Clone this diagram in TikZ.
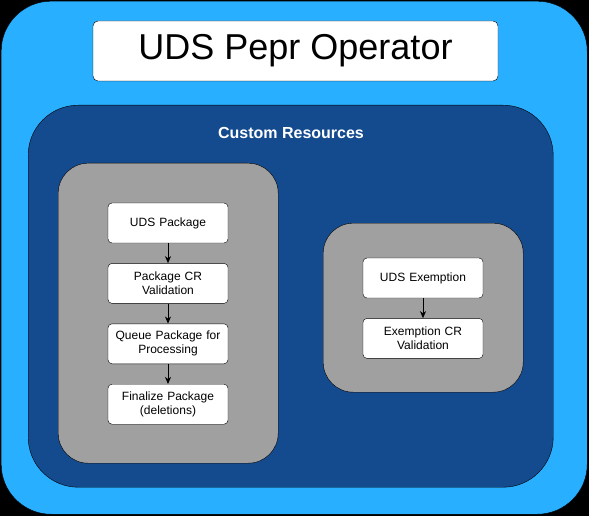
\documentclass[tikz,border=0pt]{standalone}
\usepackage{fontspec}
\setmainfont{Liberation Sans}
\usetikzlibrary{positioning,arrows.meta}
\definecolor{outerblue}{RGB}{41,175,255}
\definecolor{crblue}{RGB}{20,74,142}
\definecolor{boxgrey}{RGB}{160,160,160}

\begin{document}
\begin{tikzpicture}[x=1pt,y=-1pt,node distance=20pt,
   panel/.style n args={4}{draw=black,fill=#1,minimum width=#2pt,minimum height=#3pt,rounded corners=#4pt,rectangle,anchor=north west,inner sep=0pt},
   stepbox/.style={draw=black,fill=white,rounded corners=4pt,minimum width=120pt,minimum height=40pt,text width=112pt,align=center,font=\fontsize{12}{14}\selectfont,inner sep=0pt},
   flow/.style={-{Stealth[length=7pt,width=6pt,inset=2pt]},line width=0.9pt}]
\fill[black] (0,0) rectangle (589,516);
\node[panel={outerblue}{586}{513}{50}] (operator) at (1,1) {};
\node[draw=black,fill=white,rounded corners=5pt,minimum width=405pt,minimum height=60pt,inner sep=0pt,font=\fontsize{36}{40}\selectfont] (title) at (295.5,51) {UDS Pepr Operator};
\node[panel={crblue}{525}{382}{50}] (cr) at (28,105) {};
\node[text=white,font=\bfseries\fontsize{16}{18}\selectfont] (crlabel) at (291,133) {Custom Resources};
\node[panel={boxgrey}{220}{300}{30}] (pkgpanel) at (58,163) {};
\node[panel={boxgrey}{200}{169}{30}] (exmpanel) at (323,223) {};
% package flow
\node[stepbox] (pkg) at (168,223) {UDS Package};
\node[stepbox,below=of pkg] (pkgval) {Package CR\\Validation};
\node[stepbox,below=of pkgval] (queue) {Queue Package for\\Processing};
\node[stepbox,below=of queue] (final) {Finalize Package\\(deletions)};
\draw[flow] (pkg) -- (pkgval);
\draw[flow] (pkgval) -- (queue);
\draw[flow] (queue) -- (final);
% exemption flow
\node[stepbox] (exm) at (423,278) {UDS Exemption};
\node[stepbox,below=of exm] (exmval) {Exemption CR\\Validation};
\draw[flow] (exm) -- (exmval);
\end{tikzpicture}
\end{document}
